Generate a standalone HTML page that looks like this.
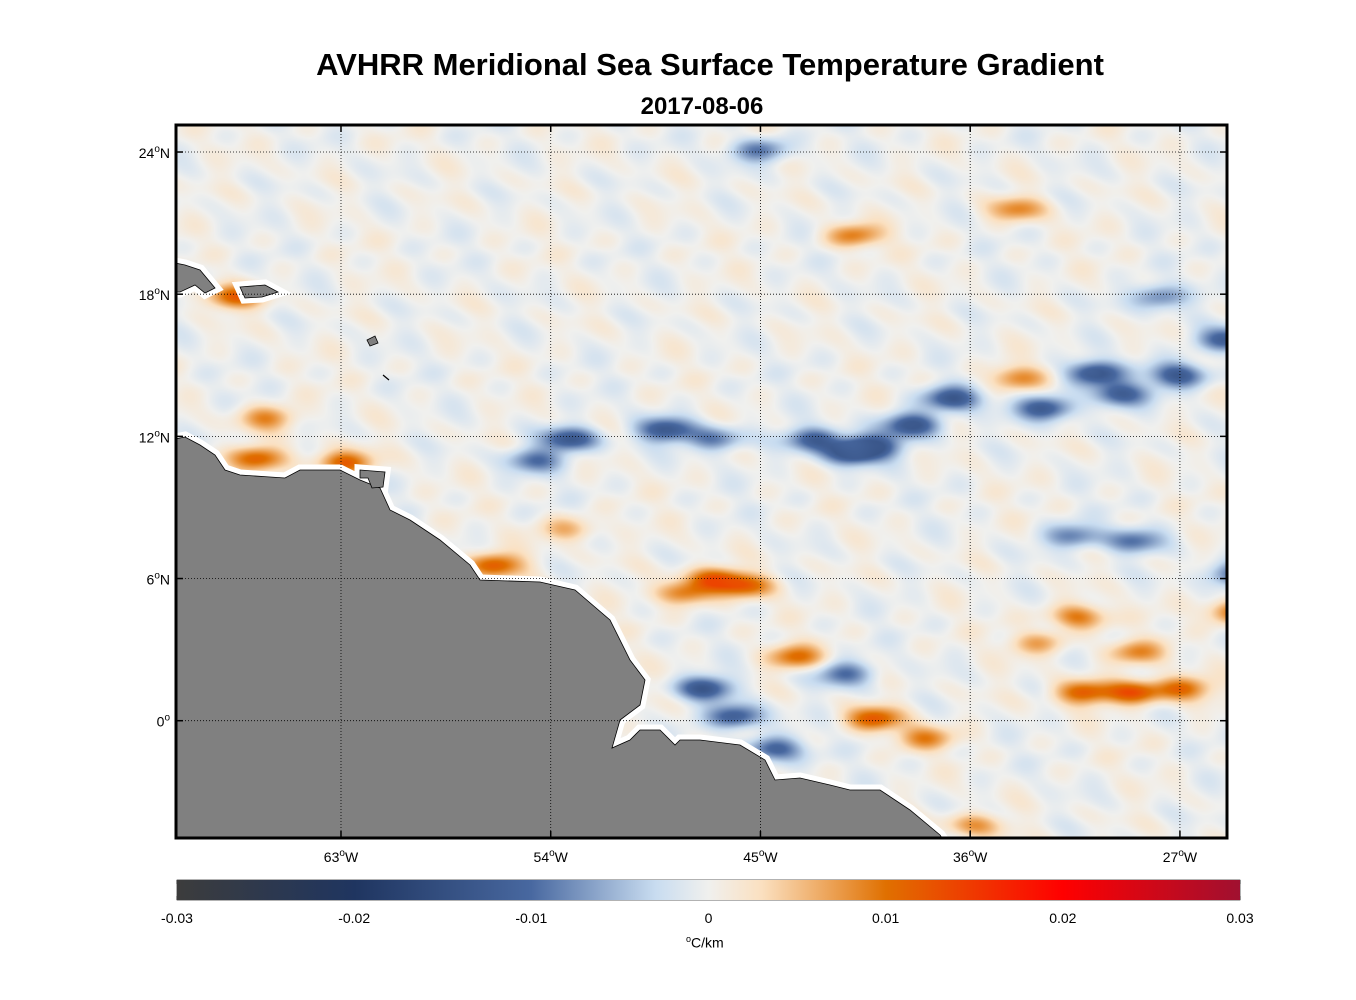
<!DOCTYPE html>
<html><head><meta charset="utf-8">
<style>
body{margin:0;background:#fff;font-family:"Liberation Sans",Arial,sans-serif;}
#wrap{position:relative;width:1356px;height:1000px;overflow:hidden;}
.t{position:absolute;color:#000;white-space:nowrap;}
</style></head>
<body>
<div id="wrap">
<div class="t" style="left:0;width:1420px;text-align:center;top:47px;font-size:31px;font-weight:bold;">AVHRR Meridional Sea Surface Temperature Gradient</div>
<div class="t" style="left:0;width:1404px;text-align:center;top:93px;font-size:24px;font-weight:bold;">2017-08-06</div>
<canvas id="cv" width="1051" height="713" style="position:absolute;left:176px;top:125px;"></canvas>
<svg id="sv" width="1356" height="1000" style="position:absolute;left:0;top:0;"></svg>
<div style="position:absolute;left:177px;top:880px;width:1063px;height:20px;background:linear-gradient(to right,#3c3c3c 0%,#1f3560 16.7%,#4868a0 33.3%,#c8dcf0 45%,#f0f0ee 50%,#fbe0c0 55%,#e07000 66.7%,#ff0000 83.3%,#a01030 100%);"></div>
<div class="t" style="left:686px;top:934px;font-size:14px;"><sup style="font-size:9px">o</sup>C/km</div>
</div>
<script>
// ---- data ----
const lonTicks=[-63,-54,-45,-36,-27];
const latTicks=[24,18,12,6,0];
const cbTicks=[-0.03,-0.02,-0.01,0,0.01,0.02,0.03];
// gradient features [lon, lat, value °C/km]
const featLon=[-40.2,-38.5,-36.8,-32.8,-30.7,-29.6,-27.1,-25.0,-27.9,-53.2,-54.7,-49.1,-47.0,-42.7,-41.2,-47.4,-46.1,-44.4,-31.6,-29.0,-24.6,-45.0,-41.4,
 -66.6,-62.9,-66.2,-67.6,-56.4,-48.3,-47.0,-45.6,-43.5,-40.1,-38.0,-31.2,-29.0,-26.9,-28.9,-31.4,-33.1,-24.6,-41.0,-34.0,-34.0,-53.3,-35.9];
const featLat=[11.6,12.5,13.6,13.2,14.7,13.8,14.6,16.1,17.9,11.9,11.0,12.3,11.9,11.9,11.3,1.4,0.2,-1.2,7.8,7.6,6.2,24.1,2.0,
 11.1,10.9,12.8,17.9,6.6,5.4,6.0,5.7,2.7,0.1,-0.7,1.2,1.2,1.4,2.9,4.4,3.3,4.6,20.5,21.6,14.5,8.1,-4.4];
const featVal=[-0.014,-0.015,-0.014,-0.014,-0.015,-0.013,-0.014,-0.013,-0.01,-0.014,-0.01,-0.014,-0.01,-0.013,-0.013,-0.014,-0.014,-0.013,-0.01,-0.01,-0.012,-0.01,-0.011,
 0.012,0.013,0.009,0.012,0.013,0.011,0.012,0.011,0.011,0.013,0.009,0.013,0.013,0.012,0.009,0.011,0.007,0.012,0.01,0.009,0.009,0.007,0.008];
// ---- axes ----
const X0=176,X1=1227,Y0=125,Y1=838,LON0=-70.08,LON1=-24.98,LAT0=-4.95,LAT1=25.14;
const xs=lon=>X0+(lon-LON0)/(LON1-LON0)*(X1-X0);
const ys=lat=>Y1-(lat-LAT0)/(LAT1-LAT0)*(Y1-Y0);
const cbx=v=>177+(v+0.03)/0.06*1063;
const stops=[[0,[60,60,60]],[.167,[31,53,96]],[.333,[72,104,160]],[.45,[200,220,240]],[.5,[240,240,238]],[.55,[251,224,192]],[.667,[224,112,0]],[.833,[255,0,0]],[1,[160,16,48]]];
function cmap(v){let t=Math.max(0,Math.min(1,(v+0.03)/0.06));for(let i=1;i<stops.length;i++){if(t<=stops[i][0]){const a=stops[i-1],b=stops[i];const f=(t-a[0])/(b[0]-a[0]);return a[1].map((c,k)=>c+(b[1][k]-c)*f);}}return stops[stops.length-1][1];}
// ---- field ----
const cv=document.getElementById('cv');const ctx=cv.getContext('2d');
const W=cv.width,H=cv.height;const img=ctx.createImageData(W,H);
const fx=featLon.map(xs).map(x=>x-X0),fy=featLat.map(ys).map(y=>y-Y0);
const sx=28,sy=12;
for(let y=0;y<H;y++)for(let x=0;x<W;x++){
 let v=0.0012*Math.sin(x*0.045+Math.sin(y*0.05)*2)*Math.cos(y*0.09+x*0.01)+0.0008*Math.sin(x*0.11-y*0.07);
 let f=0;
 for(let i=0;i<fx.length;i++){const dx=(x-fx[i])/sx,dy=(y-fy[i])/sy;const d=dx*dx+dy*dy;if(d<9)f+=featVal[i]*Math.exp(-d);}
 v+=Math.sign(f)*Math.min(Math.abs(f),0.014)*0.9;
 const c=cmap(v);const o=(y*W+x)*4;img.data[o]=c[0];img.data[o+1]=c[1];img.data[o+2]=c[2];img.data[o+3]=255;}
ctx.putImageData(img,0,0);
// ---- svg overlay ----
const NS='http://www.w3.org/2000/svg';const sv=document.getElementById('sv');
function el(t,a,p){const e=document.createElementNS(NS,t);for(const k in a)e.setAttribute(k,a[k]);(p||sv).appendChild(e);return e;}
const defs=el('defs',{});const cp=el('clipPath',{id:'cp'},defs);el('rect',{x:X0,y:Y0,width:X1-X0,height:Y1-Y0},cp);
const g=el('g',{'clip-path':'url(#cp)'});

const landPts="170,440 185,437 200,445 215,455 225,470 240,475 270,477 285,478 300,470 340,470 360,480 380,488 390,510 410,520 440,540 470,565 480,580 540,582 575,590 610,620 630,660 645,680 640,705 620,720 612,748 630,740 640,730 660,730 675,745 680,740 700,740 740,745 765,760 775,780 800,778 830,785 850,790 880,790 910,810 940,835 950,850 170,850";
const isl1="170,262 185,265 200,270 215,288 205,293 195,285 180,292 170,292";
const isl2="240,287 265,285 278,292 262,297 245,298";
const isl3="360,470 385,472 383,487 372,488 368,478 360,478";
[landPts,isl1,isl2,isl3].forEach(p=>el('polygon',{points:p,fill:'#fff',stroke:'#fff','stroke-width':11,'stroke-linejoin':'miter'},g));
[landPts,isl1,isl2,isl3].forEach(p=>el('polygon',{points:p,fill:'#808080',stroke:'#000','stroke-width':0.8},g));
el('polygon',{points:"367,340 375,336 378,343 370,346",fill:'#808080',stroke:'#000','stroke-width':0.8},g);
el('path',{d:"M383,375 L389,380",stroke:'#000','stroke-width':1.2},g);
// grid + ticks
lonTicks.forEach(l=>{const x=xs(l);
 const gl=el('line',{x1:x,x2:x,y1:Y0,y2:Y1,stroke:'#000','stroke-width':0.8,'stroke-dasharray':'1,2'});
 
 el('line',{x1:x,x2:x,y1:Y0,y2:Y0+7,stroke:'#000','stroke-width':1.5});el('line',{x1:x,x2:x,y1:Y1-7,y2:Y1,stroke:'#000','stroke-width':1.5});
 const t=el('text',{x:x,y:862,'font-size':14,'text-anchor':'middle','font-family':'Liberation Sans, sans-serif'});
 
 t.innerHTML=Math.abs(l)+'<tspan dy="-6" font-size="10">o</tspan><tspan dy="6">W</tspan>';});
latTicks.forEach(l=>{const y=ys(l);
 const gl=el('line',{x1:X0,x2:X1,y1:y,y2:y,stroke:'#000','stroke-width':0.8,'stroke-dasharray':'1,2'});
 
 el('line',{x1:X0,x2:X0+7,y1:y,y2:y,stroke:'#000','stroke-width':1.5});el('line',{x1:X1-7,x2:X1,y1:y,y2:y,stroke:'#000','stroke-width':1.5});
 const t=el('text',{x:170,y:y+6,'font-size':14,'text-anchor':'end','font-family':'Liberation Sans, sans-serif'});
 
 t.innerHTML=l===0?'0<tspan dy="-6" font-size="10">o</tspan>':l+'<tspan dy="-6" font-size="10">o</tspan><tspan dy="6">N</tspan>';});
const fr=el('rect',{x:X0,y:Y0,width:X1-X0,height:Y1-Y0,fill:'none',stroke:'#000','stroke-width':3});

cbTicks.forEach(v=>{const x=cbx(v);
 el('line',{x1:x,x2:x,y1:880,y2:884,stroke:'#000','stroke-width':0.6});el('line',{x1:x,x2:x,y1:896,y2:900,stroke:'#000','stroke-width':0.6});
 const t=el('text',{x:x,y:923,'font-size':14,'text-anchor':'middle','font-family':'Liberation Sans, sans-serif'});
 
 t.textContent=v===0?'0':v.toFixed(2);});
el('rect',{x:177,y:880,width:1063,height:20,fill:'none',stroke:'#000','stroke-width':0.6});
</script>
</body></html>
